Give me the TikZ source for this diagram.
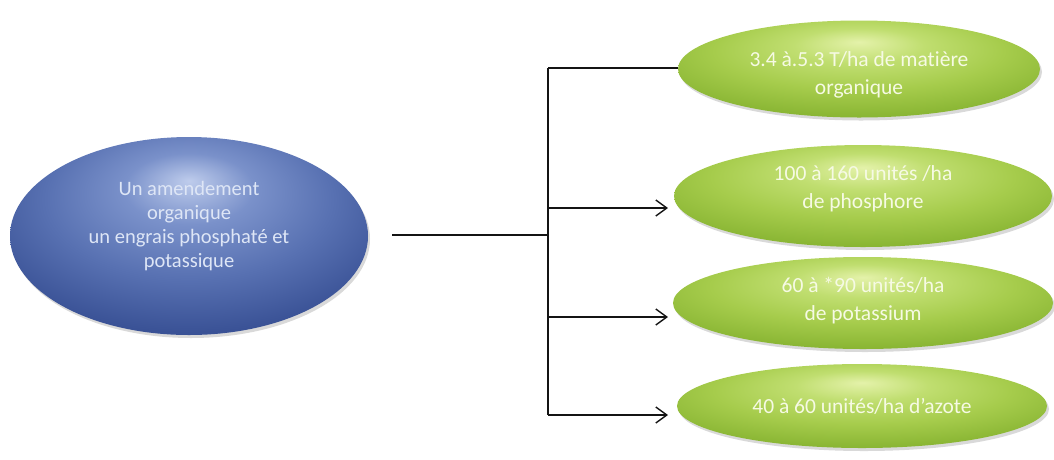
\documentclass[tikz,border=0pt]{standalone}
\usepackage{fontspec}
\setmainfont{Carlito}[Ligatures=NoCommon]
\usetikzlibrary{shapes.geometric,shadows,arrows.meta}
\definecolor{blueText}{RGB}{222,230,246}
\definecolor{greenText}{RGB}{246,250,228}
\definecolor{lineCol}{RGB}{20,20,20}
\newcommand\liftbox[2]{\raisebox{#1}[\height][\depth]{\begin{tabular}{@{}c@{}}#2\end{tabular}}}
\pgfdeclareradialshading{blueglow}{\pgfpoint{0bp}{14bp}}{%
  color(0bp)=(rgb,255:red,190;green,204;blue,236);
  color(9bp)=(rgb,255:red,122;green,145;blue,202);
  color(20bp)=(rgb,255:red,88;green,113;blue,178);
  color(31bp)=(rgb,255:red,58;green,82;blue,150);
  color(42bp)=(rgb,255:red,44;green,66;blue,132);
  color(60bp)=(rgb,255:red,44;green,66;blue,132)}
\pgfdeclareradialshading{greenglow}{\pgfpoint{0bp}{14bp}}{%
  color(0bp)=(rgb,255:red,228;green,242;blue,170);
  color(9bp)=(rgb,255:red,192;green,222;blue,112);
  color(20bp)=(rgb,255:red,166;green,204;blue,76);
  color(31bp)=(rgb,255:red,138;green,182;blue,52);
  color(42bp)=(rgb,255:red,116;green,158;blue,36);
  color(60bp)=(rgb,255:red,116;green,158;blue,36)}
\tikzset{
  ellbase/.style={ellipse, inner sep=0pt,
    drop shadow={shadow xshift=2pt, shadow yshift=-3pt, opacity=0.3}},
  blueell/.style={ellbase, shading=blueglow,
    text=blueText, font=\fontsize{20.5}{24}\selectfont},
  greenell/.style={ellbase, shading=greenglow,
    text=greenText, font=\fontsize{21.5}{28}\selectfont},
  conn/.style={draw=lineCol, line width=1.4pt},
  arr/.style={conn, -{Straight Barb[length=11pt,width=16pt,line width=1.4pt]}}
}
\begin{document}
\begin{tikzpicture}[x=1pt,y=-1pt]
\useasboundingbox (0,0) rectangle (1054,459);
\node[blueell, minimum width=358pt, minimum height=198pt] (blue) at (189,236)
  {\liftbox{9pt}{Un amendement\\organique\\un engrais phosphaté et\\potassique}};
\node[greenell, minimum width=362pt, minimum height=97pt] (g1) at (859,69)
  {\liftbox{-6pt}{3.4 à.5.3 T/ha de matière\\organique}};
\node[greenell, minimum width=378pt, minimum height=102pt] (g2) at (863,196)
  {\liftbox{7pt}{100 à 160 unités /ha\\de phosphore}};
\node[greenell, minimum width=380pt, minimum height=92pt] (g3) at (863,303)
  {\liftbox{2pt}{60 à *90 unités/ha\\de potassium}};
\node[greenell, minimum width=370pt, minimum height=84pt] (g4) at (862,406)
  {40 à 60 unités/ha d’azote};
\coordinate (j) at (548,235);
\coordinate (b1) at (548,68);
\coordinate (b2) at (548,208);
\coordinate (b3) at (548,317);
\coordinate (b4) at (548,415);
\coordinate (e2) at (668,208);
\coordinate (e3) at (668,317);
\coordinate (e4) at (668,415);
\draw[conn, shorten <=24pt] (blue.east |- j) -- (j);
\draw[conn] (b1) -- (b4);
\draw[conn] (b1) -- (g1.west |- b1);
\draw[arr] (b2) -- (e2);
\draw[arr] (b3) -- (e3);
\draw[arr] (b4) -- (e4);
\end{tikzpicture}
\end{document}
